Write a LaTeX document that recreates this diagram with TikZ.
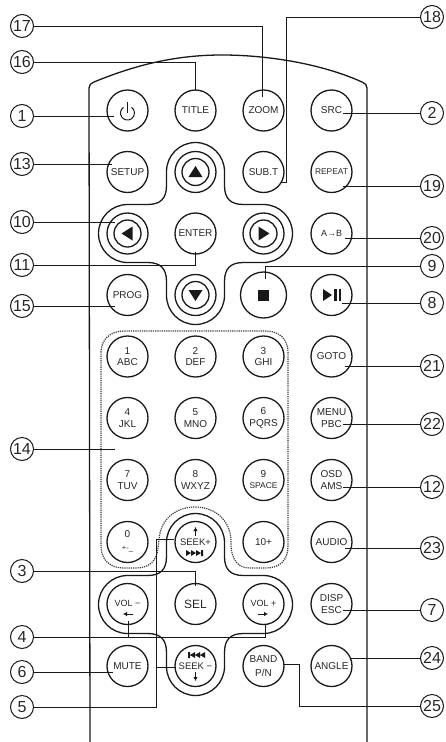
\documentclass[tikz,border=0pt]{standalone}
\usepackage{fontspec}
\setmainfont{Liberation Sans}
\usetikzlibrary{arrows.meta}
\definecolor{inkline}{gray}{0.1}
\definecolor{inktext}{gray}{0.15}
\tikzset{
  keyline/.style={draw=inkline,line width=1.3pt},
  leader/.style={draw=inkline,line width=1pt},
  keybtn/.style={keyline,circle,minimum size=41pt,inner sep=0pt,align=center,text=inktext,
    font=\fontsize{10}{11.5}\selectfont},
  callout/.style={circle,draw=inkline,line width=1pt,minimum size=23pt,inner sep=0pt,text=inktext,
    font=\fontsize{16}{16}\selectfont},
}
\begin{document}
\begin{tikzpicture}[x=1pt,y=-1pt]
    \useasboundingbox (0,0) rectangle (446,742);
    % Remote body
    \draw[keyline] (90,742) -- (89,88) .. controls (89,85) and (91,83) .. (94,82)
      .. controls (140,63) and (180,55) .. (222,55) .. controls (265,55) and (320,63) .. (362,82)
      .. controls (365,83) and (367,85) .. (367,88) -- (367,742);
    % Cross outlines
    \foreach \cy in {233.5,604.5} {
      \draw[keyline,shift={(195.5,\cy)}] (-97,0) arc[start angle=180,end angle=270,radius=29]
        -- (-48,-29) .. controls (-35,-29) and (-29,-35) .. (-29,-48)
        -- (-29,-62) arc[start angle=180,end angle=360,radius=29]
        -- (29,-48) .. controls (29,-35) and (35,-29) .. (48,-29)
        -- (68,-29) arc[start angle=270,end angle=450,radius=29]
        -- (48,29) .. controls (35,29) and (29,35) .. (29,48)
        -- (29,62) arc[start angle=0,end angle=180,radius=29]
        -- (-29,48) .. controls (-29,35) and (-35,29) .. (-48,29)
        -- (-68,29) arc[start angle=90,end angle=180,radius=29] -- cycle;
    }
    % Keypad dotted frame
    \draw[gray!45!black,line width=1.2pt,densely dotted] (101,352) .. controls (101,340) and (110,331) .. (124,331)
      -- (266,331) .. controls (280,331) and (288,340) .. (288,352) -- (288,546)
      .. controls (288,560) and (280,568) .. (266,568) -- (250,568)
      .. controls (238,568) and (232,560) .. (231,546) -- (231,540)
      .. controls (230,520) and (215,507) .. (195,507) .. controls (175,507) and (160,520) .. (159,540)
      -- (158,548) .. controls (157,560) and (150,568) .. (136,568) -- (124,568)
      .. controls (110,568) and (101,560) .. (101,546) -- cycle;
    % Top rows
    \node[keybtn] (btnPower) at (127.5,110.5) {};
    \node[keybtn] (btnTitle) at (195.5,110.5) {TITLE};
    \node[keybtn] (btnZoom) at (263.5,110.5) {ZOOM};
    \node[keybtn] (btnSrc) at (331.5,110.5) {SRC};
    \node[keybtn] (btnSetup) at (127.5,172) {SETUP};
    \node[keybtn] (btnSubt) at (263.5,172) {SUB.T};
    \node[keybtn,font=\fontsize{8.4}{10}\selectfont] (btnRepeat) at (331.5,172) {REPEAT};
    \node[keybtn] (btnEnter) at (195.5,233.5) {ENTER};
    \node[keybtn,font=\fontsize{9}{10}\selectfont] (btnAb) at (331.5,233.5) {A→B};
    \node[keybtn] (btnProg) at (127.5,295) {PROG};
    \node[keybtn,minimum size=46pt] (btnStop) at (263.5,295) {};
    \node[keybtn] (btnPlay) at (331.5,295) {};
    % Arrow keys
    \foreach \n/\x/\y in {Up/195.5/172,Left/127.5/233.5,Right/263.5/233.5,Down/195.5/295} {
      \node[keybtn] (btn\n) at (\x,\y) {};
      \draw[keyline] (btn\n) circle (13.5);
    }
    \fill[inkline,shift={(195.5,172)}] (-7,5) -- (7,5) -- (0,-6) -- cycle;
    \fill[inkline,shift={(195.5,295)}] (-7,-5) -- (7,-5) -- (0,6) -- cycle;
    \fill[inkline,shift={(127.5,233.5)}] (5,-7) -- (5,7) -- (-6,0) -- cycle;
    \fill[inkline,shift={(263.5,233.5)}] (-5,-7) -- (-5,7) -- (6,0) -- cycle;
    % Power, stop and play icons
    \draw[inkline,line width=1pt] (123.5,107.3) arc[start angle=235,end angle=-55,radius=7];
    \draw[inkline,line width=1pt] (127.5,102) -- (127.5,113);
    \fill[inkline] (258,289.5) rectangle (269,300.5);
    \fill[inkline] (323,289) -- (323,301) -- (332,295) -- cycle;
    \fill[inkline] (334,289) rectangle (336.5,301);
    \fill[inkline] (338.5,289) rectangle (341,301);
    % Number keys
    \foreach \n/\x/\y/\t in {One/127.5/356.5/{1\\ABC},Two/195.5/356.5/{2\\DEF},Three/263.5/356.5/{3\\GHI},
      Four/127.5/418/{4\\JKL},Five/195.5/418/{5\\MNO},Six/263.5/418/{6\\PQRS},
      Seven/127.5/480/{7\\TUV},Eight/195.5/480/{8\\WXYZ}} {
      \node[keybtn] (btn\n) at (\x,\y) {\t};
    }
    \node[keybtn] (btnNine) at (263.5,480) {9\\[-0.5pt]{\fontsize{8.4}{9}\selectfont SPACE}};
    \node[keybtn] (btnZero) at (127.5,542) {\\[-6pt]0\\[2pt]{\fontsize{7.5}{7}\selectfont +-\_}};
    \node[keybtn] (btnTen) at (263.5,542) {10+};
    % Seek and volume keys
    \node[keybtn,font=\fontsize{9.5}{10}\selectfont] (btnSeekUp) at (195.5,542) {SEEK+};
    \node[keybtn] (btnVolDown) at (127.5,604) {};
    \node[keybtn,font=\fontsize{12}{12}\selectfont] (btnSel) at (195.5,604) {SEL};
    \node[keybtn] (btnVolUp) at (263.5,604) {};
    \node[keybtn,font=\fontsize{9.5}{10}\selectfont] (btnSeekDown) at (195.5,666) {SEEK −};
    \node[inner sep=0pt,text=inktext,font=\fontsize{9}{10}\selectfont] (txtVolDown) at (127.5,603) {VOL −};
    \node[inner sep=0pt,text=inktext,font=\fontsize{9}{10}\selectfont] (txtVolUp) at (263.5,603) {VOL +};
    \draw[-{Latex[length=4pt,width=4.5pt]},inkline,line width=1pt] (195.5,536) -- (195.5,527);
    \draw[-{Latex[length=4pt,width=4.5pt]},inkline,line width=1pt] (195.5,672) -- (195.5,681);
    \draw[-{Latex[length=4pt,width=4.5pt]},inkline,line width=1pt] (133,614) -- (123,614);
    \draw[-{Latex[length=4pt,width=4.5pt]},inkline,line width=1pt] (258,614) -- (268,614);
    \fill[inkline] (186,550) -- (186,556) -- (191,553) -- cycle (191,550) -- (191,556) -- (196,553) -- cycle
      (196,550) -- (196,556) -- (201,553) -- cycle (201,550) rectangle (203,556);
    \fill[inkline] (188,652) rectangle (190,658) (195,652) -- (195,658) -- (190,655) -- cycle
      (200,652) -- (200,658) -- (195,655) -- cycle (205,652) -- (205,658) -- (200,655) -- cycle;
    % Right column
    \node[keybtn] (btnGoto) at (331.5,356.5) {GOTO};
    \node[keybtn] (btnMenu) at (331.5,418) {MENU\\PBC};
    \node[keybtn] (btnOsd) at (331.5,480) {OSD\\AMS};
    \node[keybtn] (btnAudio) at (331.5,542) {AUDIO};
    \node[keybtn] (btnDisp) at (331.5,604) {DISP\\ESC};
    \node[keybtn] (btnMute) at (127.5,666) {MUTE};
    \node[keybtn,align=center] (btnBand) at (263.5,666) {BAND\\[2pt]P/N};
    \node[keybtn] (btnAngle) at (331.5,666) {ANGLE};
    % Callouts with straight leaders
    \foreach \n/\y/\tx in {1/116/114,13/164/112,10/222/115,15/306/115,14/449/115,6/672/113} {
      \node[callout] (lbl\n) at (22,\y) {\n};
      \coordinate (tip\n) at (\tx,\y);
      \draw[leader] (lbl\n) -- (tip\n);
    }
    \foreach \n/\y/\tx in {2/113/343,19/186/343,20/238/345,8/303/342,21/366/345,22/424/343,12/487/343,23/548/345,7/610/343,24/658/350} {
      \node[callout] (lbl\n) at (432,\y) {\n};
      \coordinate (tip\n) at (\tx,\y);
      \draw[leader] (lbl\n) -- (tip\n);
    }
    % Callouts with elbow leaders
    \foreach \n/\y/\tx/\ty in {17/26/262/97,16/62/195/90,11/265/195/252,3/571/195/586,4/637/265/624} {
      \node[callout] (lbl\n) at (22,\y) {\n};
      \coordinate (tip\n) at (\tx,\ty);
      \draw[leader] (lbl\n) -| (tip\n);
    }
    \node[callout] (lbl9) at (432,266) {9};
    \coordinate (tip9) at (265,279);
    \draw[leader] (lbl9) -| (tip9);
    \node[callout] (lbl18) at (432,17) {18};
    \coordinate (bend18) at (286,182);
    \coordinate (tip18) at (281,182);
    \draw[leader] (lbl18) -| (bend18) -- (tip18);
    \node[callout] (lbl25) at (432,706) {25};
    \coordinate (bend25) at (299,664);
    \coordinate (tip25) at (284,664);
    \draw[leader] (lbl25) -| (bend25) -- (tip25);
    \node[callout] (lbl5) at (22,707) {5};
    \coordinate (bend5) at (156,539);
    \coordinate (tip5) at (174,539);
    \coordinate (fork5) at (156,667);
    \coordinate (tip5b) at (176,667);
    \draw[leader] (lbl5) -| (bend5) -- (tip5);
    \draw[leader] (fork5) -- (tip5b);
    \coordinate (fork4) at (128,637);
    \coordinate (tip4b) at (128,621);
    \draw[leader] (fork4) -- (tip4b);
  \end{tikzpicture}
\end{document}
